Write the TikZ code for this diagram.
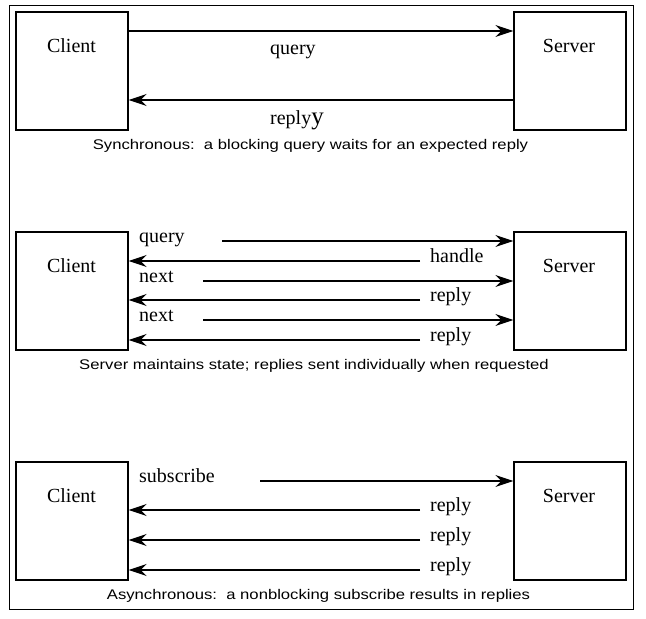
\documentclass[tikz,border=0pt]{standalone}
\usepackage{fontspec}
\setmainfont{Liberation Serif}
\newfontfamily\capfont[FakeStretch=1.19]{Liberation Sans}
\usetikzlibrary{arrows.meta}
\begin{document}
\begin{tikzpicture}[x=1pt,y=-1pt,
  party/.style={draw,line width=1.3pt,minimum width=112pt,minimum height=118pt,inner sep=0pt},
  lbl/.style={font=\fontsize{20}{20}\selectfont,inner sep=0pt,anchor=base west},
  plbl/.style={font=\fontsize{20}{20}\selectfont,inner sep=0pt,anchor=base},
  captext/.style={font=\capfont\fontsize{14}{14}\selectfont,inner sep=0pt,anchor=base},
  msg/.style={line width=1.5pt,-{Stealth[length=18pt,width=12pt,inset=6pt]}}]
\useasboundingbox (0,0) rectangle (646,619);
\draw[line width=0.8pt] (9,5) rectangle (633,609);
% Block 1
\node[party] (c1) at (72,71) {};
\node[party] (s1) at (570,71) {};
\node[plbl] (ct1) at (71.5,52.3) {Client};
\node[plbl] (st1) at (569,52.3) {Server};
\coordinate (c1q) at (c1.east |- 0,31);
\coordinate (s1q) at (s1.west |- 0,31);
\coordinate (c1r) at (c1.east |- 0,100);
\coordinate (s1r) at (s1.west |- 0,100);
\draw[msg] (c1q) -- (s1q);
\draw[msg] (s1r) -- (c1r);
\node[lbl] (lq1) at (270,54) {query};
\node[lbl] (lr1) at (270,124.5) {reply\fontsize{25}{25}\selectfont y};
\node[captext] (cap1) at (310.5,149.7) {Synchronous:\ \ a blocking query waits for an expected reply};
% Block 2
\node[party] (c2) at (72,291) {};
\node[party] (s2) at (570,291) {};
\node[plbl] (ct2) at (71.5,272.3) {Client};
\node[plbl] (st2) at (569,272.3) {Server};
\coordinate (a1) at (222,241);
\coordinate (a2) at (420,261);
\coordinate (a3) at (203,281);
\coordinate (a4) at (420,300);
\coordinate (a5) at (203,320);
\coordinate (a6) at (420,340);
\draw[msg] (a1) -- (s2.west |- a1);
\draw[msg] (a2) -- (c2.east |- a2);
\draw[msg] (a3) -- (s2.west |- a3);
\draw[msg] (a4) -- (c2.east |- a4);
\draw[msg] (a5) -- (s2.west |- a5);
\draw[msg] (a6) -- (c2.east |- a6);
\node[lbl] (l21) at (139,242) {query};
\node[lbl] (l22) at (430,262) {handle};
\node[lbl] (l23) at (139,282) {next};
\node[lbl] (l24) at (430,301) {reply};
\node[lbl] (l25) at (139,321) {next};
\node[lbl] (l26) at (430,341) {reply};
\node[captext] (cap2) at (314,369.7) {Server maintains state; replies sent individually when requested};
% Block 3
\node[party] (c3) at (72,521) {};
\node[party] (s3) at (570,521) {};
\node[plbl] (ct3) at (71.5,502.3) {Client};
\node[plbl] (st3) at (569,502.3) {Server};
\coordinate (b1) at (260,481);
\coordinate (b2) at (420,510);
\coordinate (b3) at (420,540);
\coordinate (b4) at (420,570);
\draw[msg] (b1) -- (s3.west |- b1);
\draw[msg] (b2) -- (c3.east |- b2);
\draw[msg] (b3) -- (c3.east |- b3);
\draw[msg] (b4) -- (c3.east |- b4);
\node[lbl] (l31) at (139,482) {subscribe};
\node[lbl] (l32) at (430,511) {reply};
\node[lbl] (l33) at (430,541) {reply};
\node[lbl] (l34) at (430,571) {reply};
\node[captext] (cap3) at (318.5,599.7) {Asynchronous:\ \ a nonblocking subscribe results in replies};
\end{tikzpicture}
\end{document}
